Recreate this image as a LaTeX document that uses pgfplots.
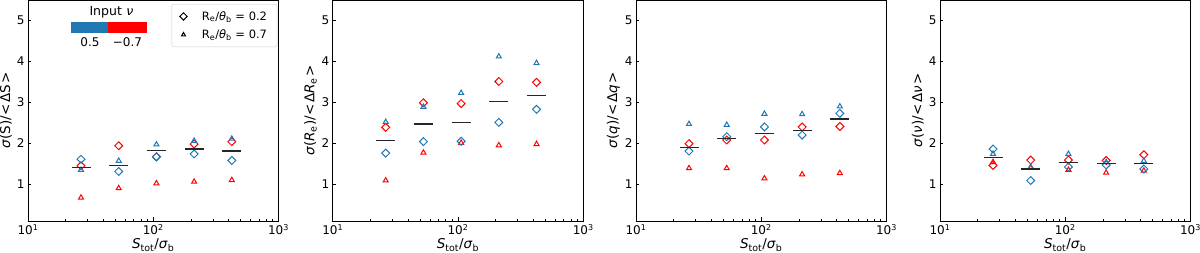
\documentclass[border=0pt]{standalone}
\usepackage{pgfplots}
\pgfplotsset{compat=1.18}
\usepackage{pgfplotstable}
\usepackage{fontspec}
\setmainfont{DejaVu Sans}

\definecolor{mblue}{HTML}{1F77B4}
\definecolor{mred}{HTML}{FF0000}

% columns: x, blue diamond, red diamond, blue triangle, red triangle, line
\pgfplotstableread{
x bd rd bt rt ln
26.5 1.61 1.45 1.35 0.67 1.40
53 1.31 1.94 1.57 0.90 1.45
106 1.67 1.67 1.97 1.02 1.82
212 1.74 1.98 2.06 1.06 1.86
424 1.58 2.04 2.11 1.10 1.81
}\tabA
\pgfplotstableread{
x bd rd bt rt ln
26.5 1.76 2.39 2.52 1.09 2.07
53 2.04 2.99 2.89 1.77 2.47
106 2.05 2.97 3.23 2.01 2.51
212 2.51 3.51 4.12 1.95 3.02
424 2.83 3.49 3.96 1.98 3.16
}\tabB
\pgfplotstableread{
x bd rd bt rt ln
26.5 1.81 1.99 2.47 1.39 1.90
53 2.16 2.08 2.45 1.39 2.12
106 2.40 2.08 2.72 1.14 2.24
212 2.20 2.40 2.71 1.24 2.32
424 2.73 2.41 2.90 1.27 2.59
}\tabC
\pgfplotstableread{
x bd rd bt rt ln
26.5 1.86 1.46 1.74 1.54 1.65
53 1.09 1.59 1.42 1.40 1.37
106 1.42 1.59 1.74 1.35 1.53
212 1.47 1.58 1.54 1.28 1.50
424 1.37 1.72 1.57 1.33 1.51
}\tabD

\newcommand{\rel}[1]{\hspace{0.08em}#1\hspace{0.08em}}

\pgfplotsset{
  every axis/.append style={
    width=250.5pt, height=220.9pt, scale only axis,
    xmin=10, xmax=1000, ymin=0.1, ymax=5.5,
    xtick={10,100,1000},
    xticklabels={10\textsuperscript{1},10\textsuperscript{2},10\textsuperscript{3}},
    minor xtick={20,30,40,50,60,70,80,90,200,300,400,500,600,700,800,900},
    ytick={1,2,3,4,5},
    yticklabels={1,2,3,4,5},
    tick align=inside, xtick pos=bottom, ytick pos=left,
    major tick length=3.5pt, minor tick length=2pt,
    tick style={black, line width=0.7pt},
    axis line style={black, line width=0.8pt},
    ticklabel style={font=\fontsize{12}{14}\selectfont},
    label style={font=\fontsize{13.5}{15}\selectfont},
    xlabel={\textit{S}\textsubscript{tot}/\textit{σ}\textsubscript{b}},
    xlabel style={yshift=3pt},
    ylabel style={yshift=-2pt},
  },
}

\newcommand{\panelplots}[1]{%
  \addplot[only marks, mark=square, mark size=2.8pt, mark options={rotate=45, line width=1pt}, mred, forget plot] table[x=x, y=rd] {#1};
  \addplot[only marks, mark=triangle, mark size=2.9pt, mark options={line width=1pt}, mred, forget plot] table[x=x, y=rt] {#1};
  \addplot[only marks, mark=square, mark size=2.8pt, mark options={rotate=45, line width=1pt}, mblue, forget plot] table[x=x, y=bd] {#1};
  \addplot[only marks, mark=triangle, mark size=2.9pt, mark options={line width=1pt}, mblue, forget plot] table[x=x, y=bt] {#1};
  \addplot[only marks, mark=-, mark size=9.5pt, mark options={line width=1.3pt}, black!85, forget plot] table[x=x, y=ln] {#1};
}

\begin{document}
\begin{tikzpicture}
\path[use as bounding box] (0,0) rectangle (1200pt,253pt);

\begin{axis}[xmode=log, anchor=south west, at={(28pt,32pt)},
  ylabel={\textit{σ}(S)/\rel{<}ΔS\rel{>}},
  legend style={at={(0.995,0.982)}, anchor=north east, draw=black!20, rounded corners=2pt,
    font=\fontsize{11.5}{13}\selectfont, row sep=4pt, inner xsep=8pt, inner ysep=5pt},
  legend cell align=left]
\panelplots{\tabA}
\addlegendimage{only marks, mark=square, mark size=2.6pt, mark options={rotate=45, line width=1pt}, black}
\addlegendentry{\hspace{1.1em}R\textsubscript{e}/\textit{θ}\textsubscript{b} = 0.2}
\addlegendimage{only marks, mark=triangle, mark size=2.3pt, mark options={line width=1pt}, black}
\addlegendentry{\hspace{1.1em}R\textsubscript{e}/\textit{θ}\textsubscript{b} = 0.7}
\fill[mblue] (rel axis cs:0.172,0.851) rectangle (rel axis cs:0.321,0.902);
\fill[mred] (rel axis cs:0.321,0.851) rectangle (rel axis cs:0.476,0.902);
\node[font=\fontsize{12.5}{14}\selectfont] at (rel axis cs:0.333,0.946) {Input\hspace{0.35em}\textit{ν}};
\node[font=\fontsize{12}{14}\selectfont] at (rel axis cs:0.2475,0.810) {0.5};
\node[font=\fontsize{12}{14}\selectfont] at (rel axis cs:0.397,0.810) {−0.7};
\end{axis}

\begin{axis}[xmode=log, anchor=south west, at={(332.7pt,32pt)},
  ylabel={\textit{σ}(\textit{R}\textsubscript{e})/\rel{<}Δ\textit{R}\textsubscript{e}\rel{>}}]
\panelplots{\tabB}
\end{axis}

\begin{axis}[xmode=log, anchor=south west, at={(636pt,32pt)},
  ylabel={\textit{σ}(\textit{q})/\rel{<}Δ\textit{q}\rel{>}}]
\panelplots{\tabC}
\end{axis}

\begin{axis}[xmode=log, anchor=south west, at={(940pt,32pt)},
  ylabel={\textit{σ}(\textit{ν})/\rel{<}Δ\textit{ν}\rel{>}}]
\panelplots{\tabD}
\end{axis}
\end{tikzpicture}
\end{document}
